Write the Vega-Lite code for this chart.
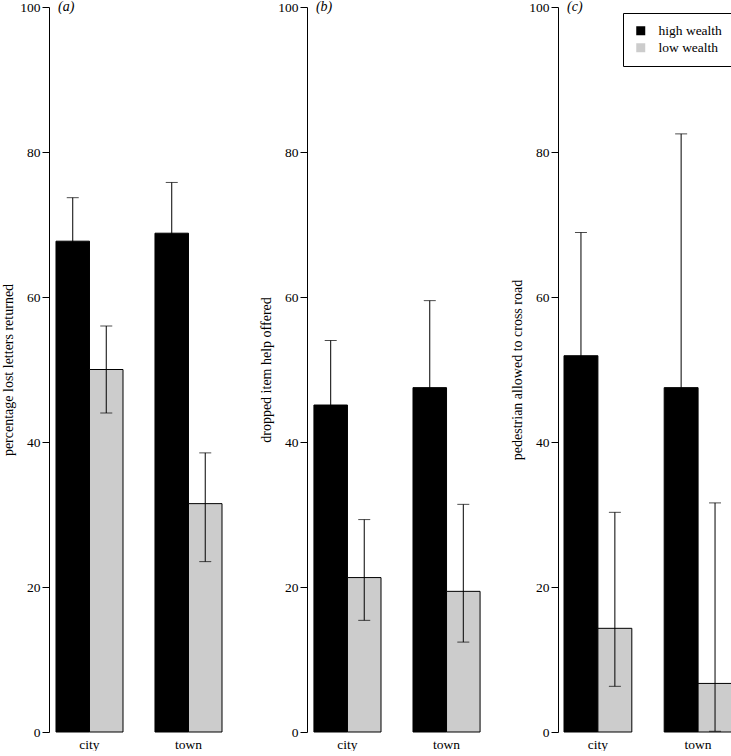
{
  "$schema": "https://vega.github.io/schema/vega-lite/v6.json",
  "padding": {"left": 1, "top": 0, "right": 0, "bottom": 0},
  "background": "white",
  "spacing": 23,
  "config": {
    "font": "Liberation Serif",
    "view": {"stroke": null},
    "text": {"font": "Liberation Serif"},
    "axis": {"labelFont": "Liberation Serif", "titleFont": "Liberation Serif", "labelColor": "black", "titleColor": "black", "domainColor": "black", "tickColor": "black", "grid": false, "labelFontSize": 13.5, "titleFontSize": 14, "titleFontWeight": "normal"},
    "axisY": {"tickSize": 7, "labelPadding": 2, "titlePadding": 4, "domainWidth": 1, "tickWidth": 1},
    "axisX": {"domain": false, "ticks": false, "labelPadding": 5, "labelAngle": 0, "title": null},
    "legend": {"labelFont": "Liberation Serif", "labelFontSize": 13.5, "labelColor": "black", "strokeColor": "black", "fillColor": "white", "padding": 11, "symbolType": "square", "symbolSize": 81, "symbolStrokeColor": "black", "symbolStrokeWidth": 1, "rowPadding": 2, "labelOffset": 11, "symbolOpacity": 1}
  },
  "data": {"values": [
    {"panel": "a", "place": "city", "wealth": "high wealth", "value": 67.7, "lo": 61.7, "hi": 73.7},
    {"panel": "a", "place": "city", "wealth": "low wealth", "value": 50.0, "lo": 44.0, "hi": 56.0},
    {"panel": "a", "place": "town", "wealth": "high wealth", "value": 68.8, "lo": 61.8, "hi": 75.8},
    {"panel": "a", "place": "town", "wealth": "low wealth", "value": 31.5, "lo": 23.5, "hi": 38.5},
    {"panel": "b", "place": "city", "wealth": "high wealth", "value": 45.1, "lo": 36.3, "hi": 54.0},
    {"panel": "b", "place": "city", "wealth": "low wealth", "value": 21.3, "lo": 15.4, "hi": 29.3},
    {"panel": "b", "place": "town", "wealth": "high wealth", "value": 47.5, "lo": 35.4, "hi": 59.5},
    {"panel": "b", "place": "town", "wealth": "low wealth", "value": 19.4, "lo": 12.4, "hi": 31.4},
    {"panel": "c", "place": "city", "wealth": "high wealth", "value": 51.9, "lo": 35.0, "hi": 68.9},
    {"panel": "c", "place": "city", "wealth": "low wealth", "value": 14.3, "lo": 6.3, "hi": 30.3},
    {"panel": "c", "place": "town", "wealth": "high wealth", "value": 47.5, "lo": 34.7, "hi": 82.5},
    {"panel": "c", "place": "town", "wealth": "low wealth", "value": 6.7, "lo": 0.1, "hi": 31.6}
  ]},
  "resolve": {"scale": {"x": "independent", "xOffset": "independent", "color": "independent"}},
  "hconcat": [
    {
      "width": 187, "height": 725,
      "transform": [{"filter": "datum.panel == 'a'"}],
      "layer": [
        {"mark": {"type": "bar", "stroke": "black", "strokeWidth": 1},
         "encoding": {
           "x": {"field": "place", "type": "nominal", "sort": ["city", "town"], "scale": {"paddingInner": 0.323, "paddingOuter": 0.106, "align": 0.333}},
           "xOffset": {"field": "wealth", "type": "nominal", "sort": ["high wealth", "low wealth"], "scale": {"paddingInner": 0, "paddingOuter": 0}},
           "y": {"field": "value", "type": "quantitative", "scale": {"domain": [0, 100], "nice": false}, "title": "percentage lost letters returned", "axis": {"values": [0, 20, 40, 60, 80, 100]}},
           "color": {"field": "wealth", "type": "nominal", "scale": {"domain": ["high wealth", "low wealth"], "range": ["#000000", "#cccccc"]}, "legend": null}}},
        {"mark": {"type": "rule", "color": "black", "strokeWidth": 1},
         "encoding": {
           "x": {"field": "place", "type": "nominal", "sort": ["city", "town"]},
           "xOffset": {"field": "wealth", "type": "nominal", "sort": ["high wealth", "low wealth"]},
           "y": {"field": "lo", "type": "quantitative", "title": "percentage lost letters returned"}, "y2": {"field": "hi"}}},
        {"mark": {"type": "tick", "color": "black", "thickness": 1, "size": 12},
         "encoding": {
           "x": {"field": "place", "type": "nominal", "sort": ["city", "town"]},
           "xOffset": {"field": "wealth", "type": "nominal", "sort": ["high wealth", "low wealth"]},
           "y": {"field": "hi", "type": "quantitative", "title": "percentage lost letters returned"}}},
        {"mark": {"type": "tick", "color": "black", "thickness": 1, "size": 12},
         "encoding": {
           "x": {"field": "place", "type": "nominal", "sort": ["city", "town"]},
           "xOffset": {"field": "wealth", "type": "nominal", "sort": ["high wealth", "low wealth"]},
           "y": {"field": "lo", "type": "quantitative", "title": "percentage lost letters returned"}}},
        {"data": {"values": [{"label": "(a)"}]},
         "mark": {"type": "text", "align": "left", "baseline": "middle", "fontStyle": "italic", "fontSize": 14, "dx": 2, "color": "black"},
         "encoding": {
           "text": {"field": "label"},
           "x": {"datum": "city", "bandPosition": 0},
           "y": {"datum": 100, "title": "percentage lost letters returned"}}}
      ]
    },
    {
      "width": 180, "height": 725,
      "transform": [{"filter": "datum.panel == 'b'"}],
      "layer": [
        {"mark": {"type": "bar", "stroke": "black", "strokeWidth": 1},
         "encoding": {
           "x": {"field": "place", "type": "nominal", "sort": ["city", "town"], "scale": {"paddingInner": 0.323, "paddingOuter": 0.07}},
           "xOffset": {"field": "wealth", "type": "nominal", "sort": ["high wealth", "low wealth"], "scale": {"paddingInner": 0, "paddingOuter": 0}},
           "y": {"field": "value", "type": "quantitative", "scale": {"domain": [0, 100], "nice": false}, "title": "dropped item help offered", "axis": {"values": [0, 20, 40, 60, 80, 100]}},
           "color": {"field": "wealth", "type": "nominal", "scale": {"domain": ["high wealth", "low wealth"], "range": ["#000000", "#cccccc"]}, "legend": null}}},
        {"mark": {"type": "rule", "color": "black", "strokeWidth": 1},
         "encoding": {
           "x": {"field": "place", "type": "nominal", "sort": ["city", "town"]},
           "xOffset": {"field": "wealth", "type": "nominal", "sort": ["high wealth", "low wealth"]},
           "y": {"field": "lo", "type": "quantitative", "title": "dropped item help offered"}, "y2": {"field": "hi"}}},
        {"mark": {"type": "tick", "color": "black", "thickness": 1, "size": 12},
         "encoding": {
           "x": {"field": "place", "type": "nominal", "sort": ["city", "town"]},
           "xOffset": {"field": "wealth", "type": "nominal", "sort": ["high wealth", "low wealth"]},
           "y": {"field": "hi", "type": "quantitative", "title": "dropped item help offered"}}},
        {"mark": {"type": "tick", "color": "black", "thickness": 1, "size": 12},
         "encoding": {
           "x": {"field": "place", "type": "nominal", "sort": ["city", "town"]},
           "xOffset": {"field": "wealth", "type": "nominal", "sort": ["high wealth", "low wealth"]},
           "y": {"field": "lo", "type": "quantitative", "title": "dropped item help offered"}}},
        {"data": {"values": [{"label": "(b)"}]},
         "mark": {"type": "text", "align": "left", "baseline": "middle", "fontStyle": "italic", "fontSize": 14, "dx": 2, "color": "black"},
         "encoding": {
           "text": {"field": "label"},
           "x": {"datum": "city", "bandPosition": 0},
           "y": {"datum": 100, "title": "dropped item help offered"}}}
      ]
    },
    {
      "width": 174, "height": 725,
      "transform": [{"filter": "datum.panel == 'c'"}],
      "layer": [
        {"mark": {"type": "bar", "stroke": "black", "strokeWidth": 1},
         "encoding": {
           "x": {"field": "place", "type": "nominal", "sort": ["city", "town"], "scale": {"paddingInner": 0.323, "paddingOuter": 0.03, "align": 1}},
           "xOffset": {"field": "wealth", "type": "nominal", "sort": ["high wealth", "low wealth"], "scale": {"paddingInner": 0, "paddingOuter": 0}},
           "y": {"field": "value", "type": "quantitative", "scale": {"domain": [0, 100], "nice": false}, "title": "pedestrian allowed to cross road", "axis": {"values": [0, 20, 40, 60, 80, 100]}},
           "color": {"field": "wealth", "type": "nominal", "scale": {"domain": ["high wealth", "low wealth"], "range": ["#000000", "#cccccc"]},
             "legend": {"title": null, "orient": "none", "legendX": 65, "legendY": 6,
               "encode": {"symbols": {"update": {"fill": {"signal": "datum.value == 'low wealth' ? '#888888' : '#000000'"}}}}}}}},
        {"mark": {"type": "rule", "color": "black", "strokeWidth": 1},
         "encoding": {
           "x": {"field": "place", "type": "nominal", "sort": ["city", "town"]},
           "xOffset": {"field": "wealth", "type": "nominal", "sort": ["high wealth", "low wealth"]},
           "y": {"field": "lo", "type": "quantitative", "title": "pedestrian allowed to cross road"}, "y2": {"field": "hi"}}},
        {"mark": {"type": "tick", "color": "black", "thickness": 1, "size": 12},
         "encoding": {
           "x": {"field": "place", "type": "nominal", "sort": ["city", "town"]},
           "xOffset": {"field": "wealth", "type": "nominal", "sort": ["high wealth", "low wealth"]},
           "y": {"field": "hi", "type": "quantitative", "title": "pedestrian allowed to cross road"}}},
        {"mark": {"type": "tick", "color": "black", "thickness": 1, "size": 12},
         "encoding": {
           "x": {"field": "place", "type": "nominal", "sort": ["city", "town"]},
           "xOffset": {"field": "wealth", "type": "nominal", "sort": ["high wealth", "low wealth"]},
           "y": {"field": "lo", "type": "quantitative", "title": "pedestrian allowed to cross road"}}},
        {"data": {"values": [{"label": "(c)"}]},
         "mark": {"type": "text", "align": "left", "baseline": "middle", "fontStyle": "italic", "fontSize": 14, "dx": 3, "color": "black"},
         "encoding": {
           "text": {"field": "label"},
           "x": {"datum": "city", "bandPosition": 0},
           "y": {"datum": 100, "title": "pedestrian allowed to cross road"}}}
      ]
    }
  ]
}
